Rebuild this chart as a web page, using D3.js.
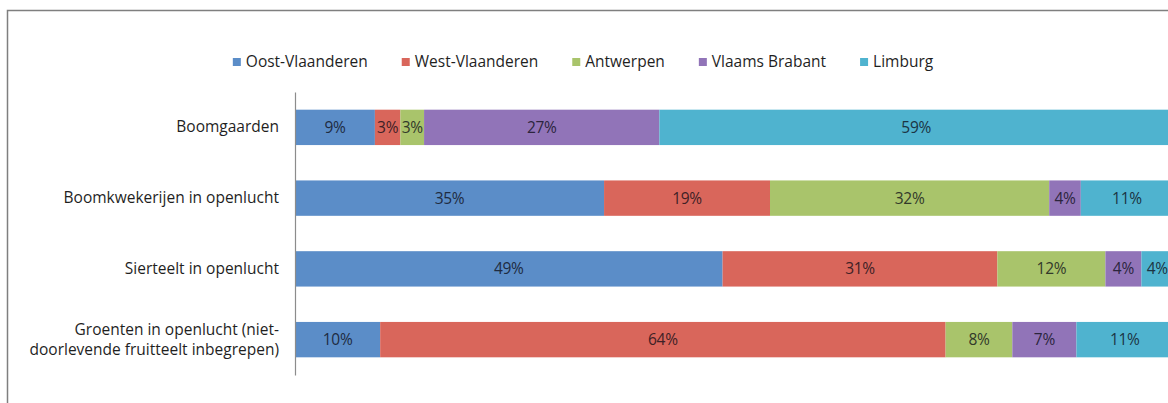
<!DOCTYPE html>
<html>
<head>
<meta charset="utf-8">
<script src="https://cdn.jsdelivr.net/npm/d3@7"></script>
<style>
  html, body { margin: 0; padding: 0; background: #fff; }
  svg { display: block; font-family: "Open Sans", "Liberation Sans", sans-serif; }
</style>
</head>
<body>
<svg id="chart" width="1168" height="403"></svg>
<script>
// ---- data ----
const categories = [
  "Boomgaarden",
  "Boomkwekerijen in openlucht",
  "Sierteelt in openlucht",
  "Groenten in openlucht (niet-doorlevende fruitteelt inbegrepen)"
];
const seriesNames = ["Oost-Vlaanderen", "West-Vlaanderen", "Antwerpen", "Vlaams Brabant", "Limburg"];
const oostVlaanderen = [9.1, 35.2, 48.7, 9.7];
const westVlaanderen = [2.9, 18.9, 31.3, 64.4];
const antwerpen      = [2.7, 31.8, 12.3, 7.6];
const vlaamsBrabant  = [26.8, 3.6, 4.1, 7.3];
const limburg        = [58.5, 10.5, 3.6, 11.0];
const seriesValues = [oostVlaanderen, westVlaanderen, antwerpen, vlaamsBrabant, limburg];
const colors = ["#5b8dc8", "#d9665b", "#a9c46b", "#9174b8", "#4fb3cf"];

// ---- build table ----
const table = categories.map((c, i) => {
  const row = { category: c };
  seriesNames.forEach((s, j) => row[s] = seriesValues[j][i]);
  return row;
});
const stacked = d3.stack().keys(seriesNames)(table);

const svg = d3.select("#chart");
const W = 1168, H = 403;

// outer border (chart is cropped at right/bottom)
svg.append("rect")
  .attr("x", 7.5).attr("y", 10.5)
  .attr("width", W + 20).attr("height", H + 20)
  .attr("fill", "#fff")
  .attr("stroke", "#7f7f7f").attr("stroke-width", 1.5);

const x = d3.scaleLinear().domain([0, 100]).range([295, 1173]);
const y = d3.scaleBand().domain(categories).range([92, 375]).paddingInner(0.5).paddingOuter(0.25);
const color = d3.scaleOrdinal().domain(seriesNames).range(colors);

// bars
const groups = svg.append("g").selectAll("g").data(stacked).join("g")
  .attr("fill", d => color(d.key));
groups.selectAll("rect").data(d => d.map(p => ({ p, key: d.key }))).join("rect")
  .attr("x", d => x(d.p[0]))
  .attr("y", d => y(d.p.data.category))
  .attr("width", d => x(d.p[1]) - x(d.p[0]))
  .attr("height", y.bandwidth());

// data labels
groups.selectAll("text").data(d => d.map(p => ({ p, key: d.key }))).join("text")
  .attr("x", d => (x(d.p[0]) + x(d.p[1])) / 2)
  .attr("y", d => y(d.p.data.category) + y.bandwidth() / 2)
  .attr("dy", "0.35em")
  .attr("text-anchor", "middle")
  .attr("font-size", 15.5)
  .attr("letter-spacing", -0.3)
  .attr("fill", d => d3.interpolateRgb(color(d.key), "#0a0a14")(0.75))
  .text(d => Math.round(d.p[1] - d.p[0]) + "%");

// y axis
const yAxis = d3.axisLeft(y).tickSize(0).tickPadding(16);
const ax = svg.append("g").attr("transform", `translate(${x(0)},0)`).call(yAxis);
ax.select(".domain").attr("stroke", "#8c8c8c").attr("stroke-width", 1.2);
ax.selectAll(".tick text")
  .attr("font-size", 15.5)
  .attr("fill", "#1f1f1f")
  .attr("font-family", "Open Sans, sans-serif")
  .each(function() { wrap(d3.select(this), 272); });

function wrap(text, width) {
  const full = text.text();
  const tokens = full.split(/(?<=[ \-])/);
  const xPos = text.attr("x");
  text.text(null);
  const lines = [];
  let line = "";
  const probe = text.append("tspan");
  tokens.forEach(t => {
    const test = line + t;
    probe.text(test.trim());
    if (probe.node().getComputedTextLength() > width && line) {
      lines.push(line.trim());
      line = t;
    } else {
      line = test;
    }
  });
  lines.push(line.trim());
  probe.remove();
  const lh = 1.3;
  const start = -(lines.length - 1) / 2 * lh;
  lines.forEach((l, i) => {
    text.append("tspan").attr("x", xPos).attr("dy", (i === 0 ? start + 0.32 : lh) + "em").text(l);
  });
  text.attr("dy", null);
}

// legend
const legend = svg.append("g").attr("font-size", 15.5).attr("fill", "#1f1f1f");
const items = legend.selectAll("g").data(seriesNames).join("g");
items.append("rect").attr("width", 8).attr("height", 8).attr("y", -4).attr("fill", d => color(d));
items.append("text").attr("x", 13).attr("dy", "0.35em").text(d => d);
const gap = 34;
const widths = [];
items.each(function() {
  const w = 13 + d3.select(this).select("text").node().getComputedTextLength();
  widths.push(w);
});
const total = d3.sum(widths) + gap * (widths.length - 1);
let start = 583 - total / 2;
items.attr("transform", (d, i) => {
  const tx = start;
  start += widths[i] + gap;
  return `translate(${tx},62)`;
});
</script>
</body>
</html>
